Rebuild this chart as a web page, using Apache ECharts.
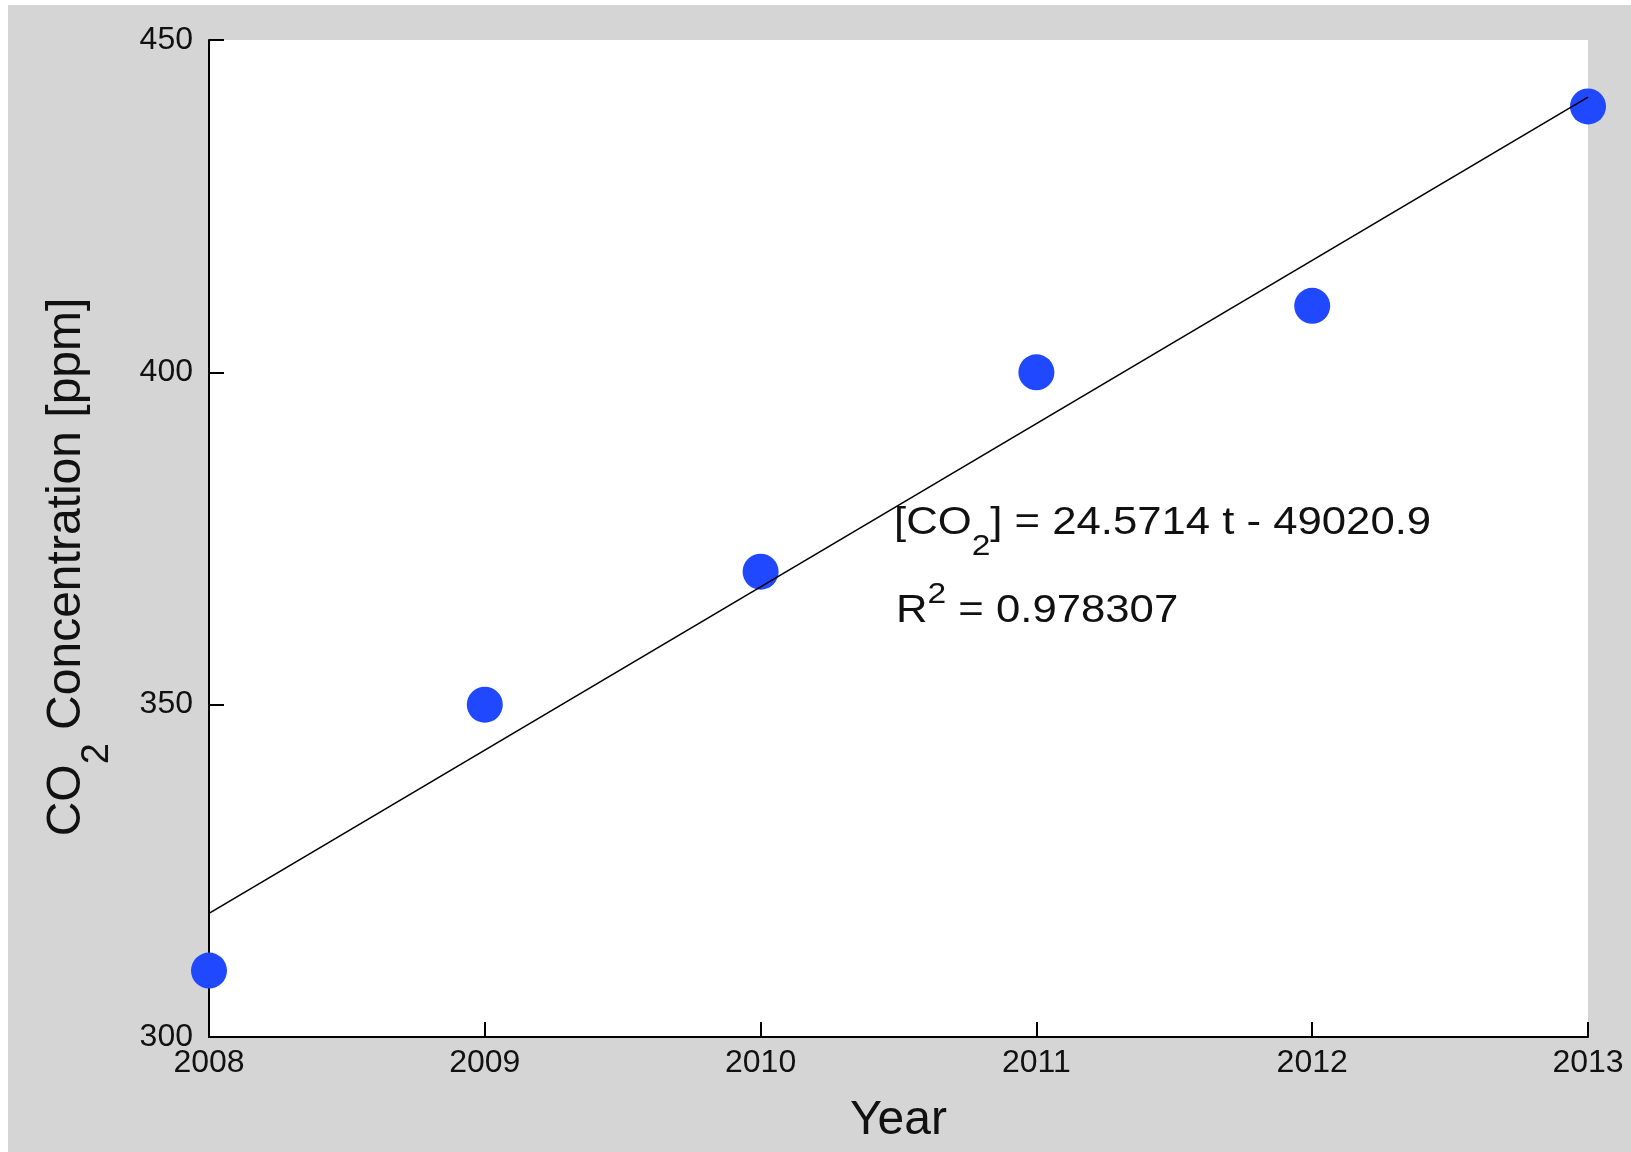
<!DOCTYPE html>
<html>
<head>
<meta charset="utf-8">
<title>CO2 concentration</title>
<script src="https://cdn.jsdelivr.net/npm/echarts@6/dist/echarts.min.js"></script>
<style>
  html, body { margin: 0; padding: 0; background: #ffffff; }
  #chart { position: absolute; left: 8px; top: 5px; width: 1623px; height: 1147px; }
</style>
</head>
<body>
<div id="chart"></div>
<script>
// measured values
var years = [2008, 2009, 2010, 2011, 2012, 2013];
var co2 = [310, 350, 370, 400, 410, 440];
// least squares line, read at both ends of the plot
var fitYears = [2008, 2013];
var fitValues = [318.6, 441.4];

var FONT = 'Liberation Sans';
var INK = '#111111';

var chart = echarts.init(document.getElementById('chart'));

var option = {
  backgroundColor: '#d5d5d5',
  animation: false,
  textStyle: { fontFamily: FONT, color: INK },
  grid: {
    left: 201, top: 35, right: 43, bottom: 115,
    show: true, backgroundColor: '#ffffff', borderWidth: 0
  },
  xAxis: {
    type: 'value',
    min: 2008, max: 2013, interval: 1,
    name: 'Year',
    nameLocation: 'middle',
    nameGap: 60,
    nameTextStyle: { fontFamily: FONT, fontSize: 48, color: INK },
    axisLine: { show: true, onZero: false, lineStyle: { color: '#000', width: 2 } },
    axisTick: { show: true, inside: true, length: 15, lineStyle: { color: '#000', width: 2 } },
    axisLabel: {
      fontFamily: FONT, fontSize: 32, color: INK, margin: 10,
      formatter: function (v) { return String(v); }
    },
    splitLine: { show: false }
  },
  yAxis: {
    type: 'value',
    min: 300, max: 450, interval: 50,
    axisLine: { show: true, lineStyle: { color: '#000', width: 2 } },
    axisTick: { show: true, inside: true, length: 15, lineStyle: { color: '#000', width: 2 } },
    axisLabel: { fontFamily: FONT, fontSize: 32, color: INK, margin: 16, padding: [10, 0, 0, 0] },
    splitLine: { show: false }
  },
  graphic: [
    {
      // y axis title, read bottom to top
      type: 'text',
      x: 35, y: 562,
      rotation: Math.PI / 2,
      style: {
        text: '{m|CO}{s|2}{m| Concentration [ppm]}',
        align: 'center',
        verticalAlign: 'top',
        rich: {
          m: { fontFamily: FONT, fontSize: 48, lineHeight: 48, verticalAlign: 'top', fill: INK },
          s: { fontFamily: FONT, fontSize: 38, lineHeight: 74, verticalAlign: 'bottom', fill: INK }
        }
      }
    },
    {
      type: 'text',
      x: 886, y: 499,
      scaleX: 1.12,
      z: 100,
      style: {
        text: '{m|[CO}{s|2}{m|] = 24.5714 t - 49020.9}',
        align: 'left',
        verticalAlign: 'top',
        rich: {
          m: { fontFamily: FONT, fontSize: 39, lineHeight: 38, verticalAlign: 'top', fill: INK },
          s: { fontFamily: FONT, fontSize: 30, lineHeight: 58, verticalAlign: 'bottom', fill: INK }
        }
      }
    },
    {
      type: 'text',
      x: 888, y: 575,
      scaleX: 1.12,
      z: 100,
      style: {
        text: '{m|R}{s|2}{m| = 0.978307}',
        align: 'left',
        verticalAlign: 'top',
        rich: {
          m: { fontFamily: FONT, fontSize: 39, lineHeight: 51, verticalAlign: 'bottom', fill: INK },
          s: { fontFamily: FONT, fontSize: 30, lineHeight: 30, verticalAlign: 'top', fill: INK }
        }
      }
    }
  ],
  series: [
    {
      type: 'scatter',
      data: years.map(function (y, i) { return [y, co2[i]]; }),
      symbol: 'circle',
      symbolSize: 36,
      clip: false,
      itemStyle: { color: '#1f48ff', opacity: 1 },
      z: 2
    },
    {
      type: 'line',
      data: fitYears.map(function (y, i) { return [y, fitValues[i]]; }),
      symbol: 'none',
      lineStyle: { color: '#000', width: 1.6 },
      z: 3
    }
  ]
};

chart.setOption(option);
</script>
</body>
</html>
